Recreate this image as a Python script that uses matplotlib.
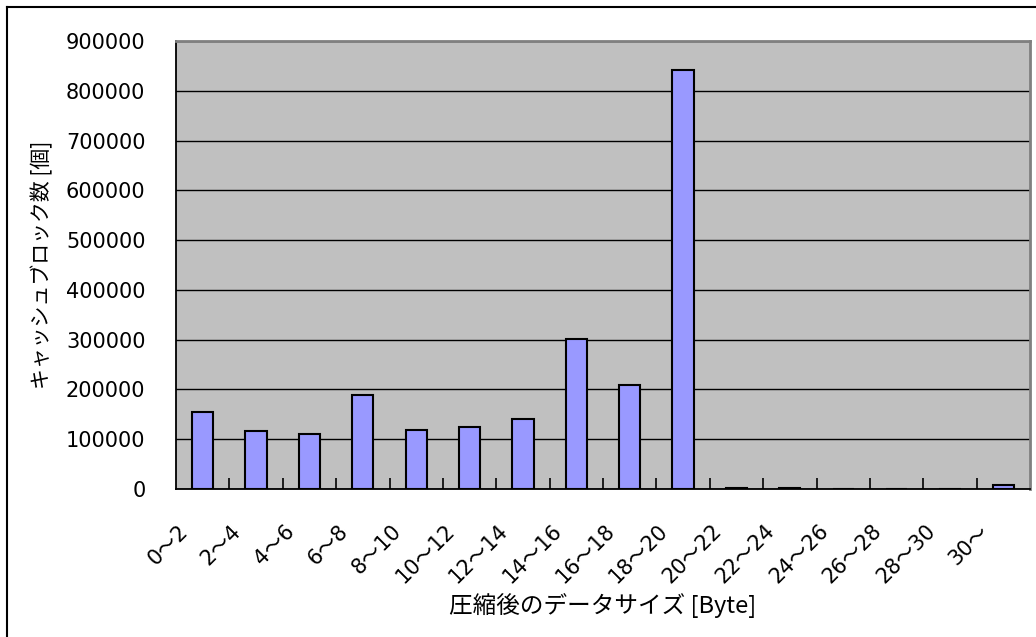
import matplotlib
matplotlib.use("Agg")
import matplotlib.pyplot as plt
import matplotlib.transforms as mtransforms
from matplotlib.lines import Line2D
import numpy as np

plt.rcParams['font.family'] = ['Noto Sans CJK JP', 'DejaVu Sans']
num_font = ['DejaVu Sans', 'Noto Sans CJK JP']

categories = ["0～2", "2～4", "4～6", "6～8", "8～10", "10～12", "12～14", "14～16",
              "16～18", "18～20", "20～22", "22～24", "24～26", "26～28", "28～30", "30～"]
counts = [155000, 116000, 110000, 189000, 119000, 125000, 141000, 302000,
          209000, 842000, 2000, 2000, 0, 0, 0, 9000]
yticks = np.arange(0, 900001, 100000)

fig = plt.figure(figsize=(10.36, 6.37), dpi=100)
ax = fig.add_axes([176/1036, 1 - 489/637, (1030 - 176)/1036, (489 - 41)/637])
ax.set_facecolor("#C0C0C0")

x = np.arange(len(categories))
ax.bar(x, counts, width=0.4, color="#9999FF", edgecolor="black", linewidth=1.5, zorder=3)

ax.set_xlim(-0.5, len(categories) - 0.5)
ax.set_ylim(0, 900000)
ax.set_yticks(yticks)
ax.set_yticklabels([str(v) for v in yticks], fontsize=15, family=num_font)
ax.yaxis.grid(True, color="black", linewidth=1)
ax.set_axisbelow(True)
ax.tick_params(axis="y", length=0, pad=22)

ax.set_xticks(x[:-1] + 0.5, minor=True)
ax.set_xticks(x)
ax.set_xticklabels(categories, rotation=45, ha="right", va="center",
                   rotation_mode="anchor", fontsize=15, family=num_font)
ax.tick_params(axis="x", which="major", length=0, pad=28)
ax.tick_params(axis="x", which="minor", direction="in", length=8, width=1.2, color="black")
shift = mtransforms.ScaledTranslation(-18/100, 0, fig.dpi_scale_trans)
for lbl in ax.get_xticklabels():
    lbl.set_transform(lbl.get_transform() + shift)

ax.spines["left"].set_color("black")
ax.spines["bottom"].set_color("black")
ax.spines["left"].set_linewidth(1.3)
ax.spines["bottom"].set_linewidth(1.3)
ax.spines["top"].set_color("#808080")
ax.spines["right"].set_color("#808080")
ax.spines["top"].set_linewidth(2)
ax.spines["right"].set_linewidth(2)

ax.set_ylabel("キャッシュブロック数 [個]", fontsize=15)
ax.set_xlabel("圧縮後のデータサイズ [Byte]", fontsize=17)
ax.yaxis.set_label_coords(-(176 - 53)/854, 0.5)
ax.xaxis.set_label_coords(0.5, -(593 - 489)/448)

# outer chart frame (top and left edges visible)
fig.add_artist(Line2D([7/1036, 7/1036], [0, 1 - 7/637], transform=fig.transFigure, color="black", linewidth=1.5))
fig.add_artist(Line2D([7/1036, 1], [1 - 7/637, 1 - 7/637], transform=fig.transFigure, color="black", linewidth=1.5))

fig.savefig("out.png", dpi=100)
